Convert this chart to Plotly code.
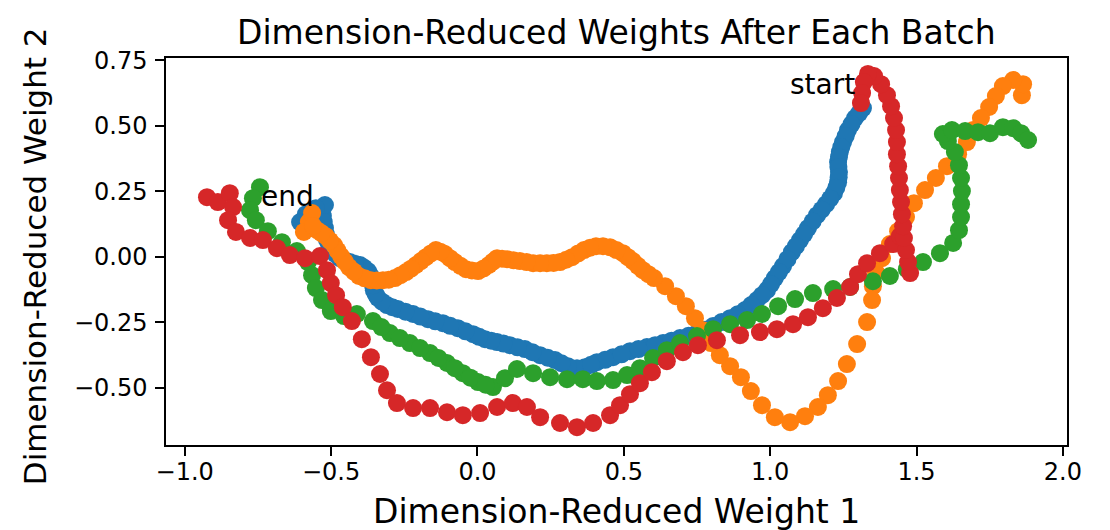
import plotly.graph_objects as go

# ---------------- data ----------------
blue_x = [1.317, 1.290, 1.266, 1.249, 1.238, 1.232, 1.235, 1.232, 1.218, 1.191, 1.160, 1.129, 1.102, 1.074,
          1.044, 1.016, 0.989, 0.955, 0.914, 0.863, 0.805, 0.750, 0.692, 0.634, 0.579, 0.521, 0.463, 0.408,
          0.367, 0.340, 0.309, 0.265, 0.214, 0.162, 0.111, 0.067, 0.026, -0.015, -0.067, -0.118, -0.169,
          -0.220, -0.272, -0.309, -0.340, -0.354, -0.360, -0.374, -0.401, -0.436, -0.470, -0.497, -0.514,
          -0.521, -0.528, -0.521, -0.552, -0.586, -0.606,
          1.304, 1.278, 1.258, 1.243, 1.235, 1.233, 1.234, 1.226, 1.205, 1.176, 1.145, 1.116, 1.088, 1.059,
          1.030, 1.003, 0.972, 0.935, 0.889, 0.834, 0.778, 0.721, 0.663, 0.607, 0.550, 0.492, 0.436, 0.388,
          0.287, 0.240, 0.188, 0.137, 0.089, 0.047, 0.006, -0.041, -0.093, -0.144, -0.195, -0.246, -0.291,
          -0.326, -0.348, -0.357, -0.366, -0.388, -0.419, -0.453, -0.485, -0.506, -0.518, -0.525]
blue_y = [0.567, 0.529, 0.483, 0.437, 0.399, 0.361, 0.323, 0.284, 0.242, 0.200, 0.158, 0.109, 0.063, 0.017,
          -0.036, -0.082, -0.128, -0.166, -0.204, -0.235, -0.265, -0.292, -0.311, -0.330, -0.345, -0.361,
          -0.384, -0.403, -0.422, -0.426, -0.418, -0.395, -0.376, -0.353, -0.338, -0.326, -0.315, -0.296,
          -0.273, -0.254, -0.239, -0.219, -0.200, -0.185, -0.158, -0.128, -0.090, -0.055, -0.032, -0.021,
          -0.006, 0.025, 0.063, 0.109, 0.155, 0.197, 0.185, 0.162, 0.132,
          0.548, 0.506, 0.460, 0.418, 0.380, 0.342, 0.303, 0.263, 0.221, 0.179, 0.134, 0.086, 0.040, -0.010,
          -0.059, -0.105, -0.147, -0.185, -0.220, -0.250, -0.279, -0.302, -0.321, -0.338, -0.353, -0.373,
          -0.394, -0.413, -0.407, -0.386, -0.365, -0.346, -0.332, -0.321, -0.306, -0.285, -0.264, -0.247,
          -0.229, -0.210, -0.193, -0.172, -0.143, -0.109, -0.072, -0.042, -0.027, -0.014, 0.009, 0.044,
          0.086, 0.132]

orange_x = [1.860, 1.864, 1.830, 1.795, 1.771, 1.748, 1.720, 1.693, 1.672, 1.642, 1.604, 1.566, 1.529, 1.491,
            1.464, 1.437, 1.409, 1.382, 1.361, 1.351, 1.348, 1.331, 1.297, 1.262, 1.232, 1.197, 1.163, 1.119,
            1.068, 1.016, 0.972, 0.934, 0.900, 0.863, 0.828, 0.798, 0.770, 0.743, 0.712, 0.678, 0.641, 0.603,
            0.565, 0.531, 0.497, 0.453, 0.405, 0.364, 0.323, 0.282, 0.237, 0.190, 0.145, 0.101, 0.067, 0.039,
            0.002, -0.039, -0.077, -0.111, -0.142, -0.176, -0.210, -0.244, -0.282, -0.323, -0.364, -0.405,
            -0.439, -0.466, -0.490, -0.518, -0.548, -0.576, -0.565, -0.593,
            0.584, 0.548, 0.514, 0.475, 0.429, 0.385, 0.344, 0.303, 0.260, 0.214, 0.168, 0.123, 0.084, 0.053,
            0.021, -0.019, -0.058, -0.094, -0.127, -0.159, -0.193, -0.227, -0.263, -0.303, -0.344, -0.385,
            -0.422, -0.453, -0.478, -0.504, -0.533, -0.562]
orange_y = [0.616, 0.658, 0.674, 0.651, 0.613, 0.571, 0.529, 0.483, 0.437, 0.391, 0.345, 0.300, 0.254, 0.204,
            0.151, 0.097, 0.048, -0.006, -0.059, -0.113, -0.166, -0.250, -0.334, -0.410, -0.475, -0.529,
            -0.574, -0.609, -0.632, -0.613, -0.567, -0.513, -0.460, -0.418, -0.376, -0.330, -0.281, -0.235,
            -0.189, -0.151, -0.113, -0.082, -0.052, -0.017, 0.013, 0.036, 0.040, 0.025, -0.002, -0.021,
            -0.025, -0.025, -0.017, -0.010, -0.006, -0.032, -0.055, -0.048, -0.021, 0.010, 0.025, -0.002,
            -0.032, -0.059, -0.082, -0.090, -0.090, -0.074, -0.040, 0.002, 0.044, 0.078, 0.101, 0.132, 0.166,
            0.094,
            -0.067, -0.035, -0.002, 0.025, 0.040, 0.034, 0.012, -0.012, -0.024, -0.025, -0.021, -0.014,
            -0.008, -0.019, -0.045, -0.053, -0.035, -0.006, 0.019, 0.012, -0.017, -0.046, -0.071, -0.088,
            -0.091, -0.083, -0.057, -0.019, 0.023, 0.061, 0.090, 0.117]

green_x = [-0.743, -0.767, -0.777, -0.757, -0.716, -0.668, -0.617, -0.579, -0.565, -0.552, -0.531, -0.501,
           -0.456, -0.412, -0.357, -0.299, -0.231, -0.162, -0.104, -0.050, 0.002, 0.053, 0.094, 0.135, 0.190,
           0.248, 0.306, 0.360, 0.408, 0.463, 0.511, 0.555, 0.600, 0.647, 0.692, 0.750, 0.805, 0.863, 0.921,
           0.972, 1.027, 1.085, 1.146, 1.215, 1.273, 1.351, 1.409, 1.467, 1.522, 1.580, 1.625, 1.645, 1.652,
           1.652, 1.655, 1.652, 1.645, 1.631, 1.607, 1.590, 1.621, 1.666, 1.710, 1.751, 1.795, 1.830, 1.857,
           1.881,
           -0.328, -0.265, -0.196, -0.133, -0.077, -0.024, 0.028]
green_y = [0.265, 0.223, 0.177, 0.139, 0.097, 0.055, 0.021, -0.021, -0.071, -0.120, -0.166, -0.208, -0.227,
           -0.219, -0.246, -0.292, -0.330, -0.368, -0.406, -0.445, -0.479, -0.498, -0.464, -0.429, -0.445,
           -0.460, -0.468, -0.468, -0.475, -0.471, -0.452, -0.426, -0.387, -0.357, -0.330, -0.303, -0.277,
           -0.258, -0.242, -0.219, -0.189, -0.162, -0.139, -0.124, -0.116, -0.094, -0.074, -0.048, -0.021,
           0.013, 0.052, 0.101, 0.151, 0.200, 0.250, 0.300, 0.349, 0.399, 0.441, 0.468, 0.483, 0.479, 0.475,
           0.471, 0.494, 0.490, 0.471, 0.445,
           -0.269, -0.311, -0.349, -0.387, -0.426, -0.462, -0.489]

red_x = [-0.924, -0.887, -0.846, -0.835, -0.852, -0.825, -0.777, -0.733, -0.685, -0.641, -0.589, -0.538,
         -0.514, -0.501, -0.483, -0.460, -0.429, -0.395, -0.364, -0.333, -0.309, -0.275, -0.220, -0.162,
         -0.104, -0.050, 0.009, 0.067, 0.121, 0.169, 0.214, 0.282, 0.340, 0.395, 0.453, 0.487, 0.521, 0.555,
         0.596, 0.647, 0.702, 0.753, 0.818, 0.897, 0.965, 1.023, 1.078, 1.129, 1.180, 1.228, 1.273, 1.300,
         1.331, 1.375, 1.420, 1.443, 1.478, 1.471, 1.464, 1.457, 1.454, 1.450, 1.447, 1.443, 1.440, 1.437,
         1.433, 1.433, 1.430, 1.423, 1.413, 1.399, 1.379, 1.355, 1.334, 1.320, 1.314, 1.310]
red_y = [0.227, 0.208, 0.242, 0.189, 0.139, 0.094, 0.071, 0.063, 0.032, 0.006, -0.006, 0.002, -0.052,
         -0.101, -0.147, -0.193, -0.246, -0.315, -0.384, -0.448, -0.510, -0.559, -0.578, -0.578, -0.594,
         -0.605, -0.597, -0.574, -0.559, -0.574, -0.613, -0.635, -0.651, -0.635, -0.605, -0.567, -0.525,
         -0.483, -0.441, -0.399, -0.365, -0.338, -0.319, -0.300, -0.288, -0.277, -0.258, -0.231, -0.197,
         -0.158, -0.116, -0.067, -0.025, 0.013, 0.048, 0.078, -0.063, -0.021, 0.025, 0.071, 0.116, 0.162,
         0.208, 0.254, 0.300, 0.345, 0.391, 0.437, 0.483, 0.529, 0.574, 0.616, 0.658, 0.689, 0.697, 0.666,
         0.624, 0.586]

series_names = ["series 0", "series 1", "series 2", "series 3"]
series_colors = ["#1f77b4", "#ff7f0e", "#2ca02c", "#d62728"]

x_tickvals = [-1.0, -0.5, 0.0, 0.5, 1.0, 1.5, 2.0]
x_ticktext = ["\u22121.0", "\u22120.5", "0.0", "0.5", "1.0", "1.5", "2.0"]
y_tickvals = [0.75, 0.50, 0.25, 0.00, -0.25, -0.50]
y_ticktext = ["0.75", "0.50", "0.25", "0.00", "\u22120.25", "\u22120.50"]

title_text = "Dimension-Reduced Weights After Each Batch"
x_label = "Dimension-Reduced Weight 1"
y_label = "Dimension-Reduced Weight 2"
start_label = ("start", 1.060, 0.585)
end_label = ("end", -0.745, 0.16)

# ---------------- figure ----------------
FONT = "DejaVu Sans"
fig = go.Figure()
all_series = [(blue_x, blue_y), (orange_x, orange_y), (green_x, green_y), (red_x, red_y)]
for (xs, ys), name, col in zip(all_series, series_names, series_colors):
    fig.add_trace(go.Scatter(x=xs, y=ys, mode="markers", name=name,
                             marker=dict(size=18, color=col, line=dict(width=0))))

axis_common = dict(showline=True, mirror=True, linecolor="black", linewidth=1.5,
                   ticks="outside", ticklen=9, tickwidth=1.5, tickcolor="black",
                   showgrid=False, zeroline=False,
                   tickfont=dict(family=FONT, size=24, color="black"))
fig.update_xaxes(range=[-1.064, 2.014], tickvals=x_tickvals, ticktext=x_ticktext,
                 ticklabelstandoff=-5, **axis_common)
fig.update_yaxes(range=[-0.719, 0.758], tickvals=y_tickvals, ticktext=y_ticktext,
                 ticklabelstandoff=3, **axis_common)

annos = [
    dict(text=title_text, xref="paper", yref="paper", x=0.5, y=1.067, xanchor="center",
         yanchor="middle", showarrow=False, font=dict(family=FONT, size=33, color="black")),
    dict(text=x_label, xref="paper", yref="paper", x=0.5, y=-0.173, xanchor="center",
         yanchor="middle", showarrow=False, font=dict(family=FONT, size=33, color="black")),
    dict(text=y_label, xref="paper", yref="paper", x=-0.1454, y=0.488, xanchor="center",
         yanchor="middle", textangle=-90, showarrow=False,
         font=dict(family=FONT, size=31, color="black")),
]
for txt, ax_, ay_ in (start_label, end_label):
    annos.append(dict(text=txt, x=ax_, y=ay_, xref="x", yref="y", xanchor="left",
                      yanchor="bottom", showarrow=False,
                      font=dict(family=FONT, size=28, color="black")))

# page body has an 8px default margin: offset the figure so the plot lands where the reference has it
fig.update_layout(width=1102, height=522, autosize=False,
                  margin=dict(l=158, r=43, t=50, b=85),
                  plot_bgcolor="white", paper_bgcolor="white",
                  showlegend=False, annotations=annos)

fig.write_html("out.html")
